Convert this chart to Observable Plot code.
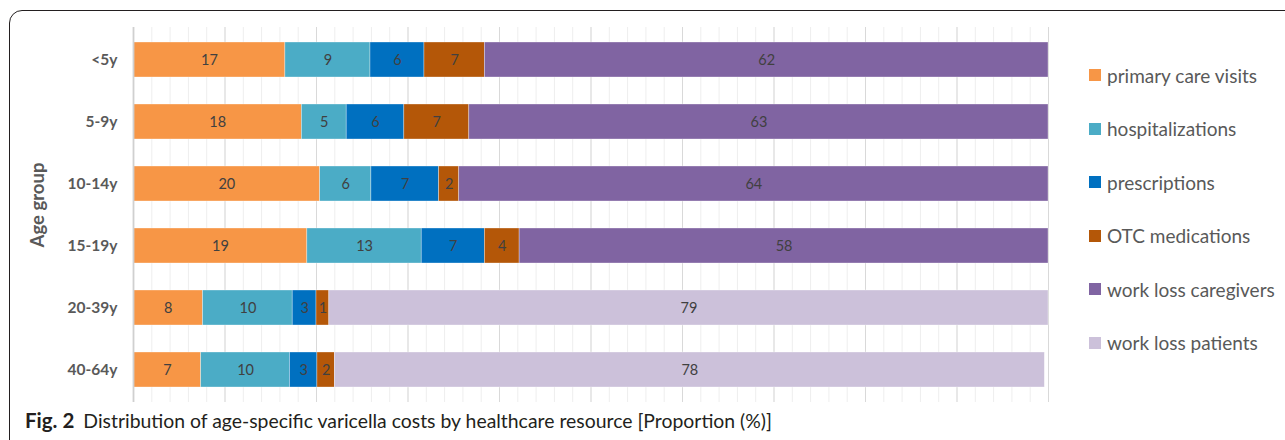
<!DOCTYPE html>
<html>
<head>
<meta charset="utf-8">
<script src="https://cdn.jsdelivr.net/npm/d3@7"></script>
<script src="https://cdn.jsdelivr.net/npm/@observablehq/plot@0.6"></script>
<style>
  html, body { margin: 0; padding: 0; background: #fff; }
  body { width: 1285px; height: 440px; position: relative; overflow: hidden; font-family: Lato, "Open Sans", sans-serif; }
  #frame { position: absolute; left: 9px; top: 10px; width: 1400px; height: 520px; border: 1px solid #231f20; border-radius: 13px; box-sizing: border-box; }
  #chart { position: absolute; left: 0; top: 0; }
  #legend { position: absolute; left: 1089px; top: 0; }
  .item { position: absolute; left: 0; white-space: nowrap; height: 24px; display: flex; align-items: center; }
  .sw { width: 12px; height: 12px; margin-right: 6px; flex: none; }
  .lab { font-size: 19px; color: #595959; }
  #caption { position: absolute; left: 25px; top: 408px; font-size: 19.4px; color: #231f20; white-space: nowrap; }
  #caption b { font-size: 20.5px; margin-right: 9px; }
</style>
</head>
<body>
<div id="frame"></div>
<div id="chart"></div>
<div id="legend"></div>
<div id="caption"><b>Fig. 2</b>Distribution of age-specific varicella costs by healthcare resource [Proportion (%)]</div>
<script>
const ages = ["<5y", "5-9y", "10-14y", "15-19y", "20-39y", "40-64y"];
const categories = ["primary care visits", "hospitalizations", "prescriptions", "OTC medications", "work loss caregivers", "work loss patients"];
const colors = ["#f79646", "#4bacc6", "#0070c0", "#b45708", "#8064a2", "#ccc1da"];

const primaryCare        = [16.6, 18.4, 20.4, 19.0, 7.6, 7.4];
const hospitalizations   = [9.3, 4.9, 5.6, 12.5, 9.8, 9.7];
const prescriptions      = [5.9, 6.3, 7.4, 6.9, 2.6, 3.0];
const otcMedications     = [6.6, 7.1, 2.2, 3.8, 1.4, 1.9];
const workLossCaregivers = [61.6, 63.3, 64.4, 57.8, 0, 0];
const workLossPatients   = [0, 0, 0, 0, 78.6, 77.6];

const series = [primaryCare, hospitalizations, prescriptions, otcMedications, workLossCaregivers, workLossPatients];
const data = [];
ages.forEach((age, i) => {
  categories.forEach((cat, j) => {
    const v = series[j][i];
    if (v > 0) data.push({age, cat, value: v});
  });
});

const chart = Plot.plot({
  width: 1070,
  height: 410,
  marginLeft: 133,
  marginRight: 22,
  marginTop: 27,
  marginBottom: 8,
  style: {fontFamily: "Lato, 'Open Sans', sans-serif", background: "transparent"},
  x: {domain: [0, 100], axis: null},
  y: {domain: ages, paddingInner: 0.434, paddingOuter: 0.2, axis: null},
  color: {domain: categories, range: colors},
  marks: [
    Plot.gridX({ticks: d3.range(0, 101, 2), stroke: "#eeeeee", strokeOpacity: 1, strokeWidth: 1}),
    Plot.gridX({ticks: d3.range(0, 101, 10), stroke: "#d9d9d9", strokeOpacity: 1, strokeWidth: 1}),
    Plot.barX(data, Plot.stackX({x: "value", y: "age", fill: "cat", order: null, stroke: "#ffffff", strokeWidth: 0.6, strokeOpacity: 0.55})),
    Plot.text(data, Plot.stackX({x: "value", y: "age", order: null, text: d => String(Math.round(d.value)), fill: "#404040", fontSize: 14.5})),
    Plot.ruleX([0], {stroke: "#d0d0d0", strokeWidth: 1.8}),
    Plot.axisY({tickSize: 0, tickPadding: 16, fontSize: 15.5, fontWeight: "bold", fill: "#595959", label: null}),
    Plot.text(["Age group"], {frameAnchor: "left", textAnchor: "middle", dx: -95, dy: -10, rotate: -90, fontSize: 18.5, fontWeight: "bold", fill: "#595959"})
  ]
});
document.getElementById("chart").appendChild(chart);

const legendTops = [75, 128.5, 182, 235.5, 289, 342.5];
const legend = document.getElementById("legend");
categories.forEach((cat, j) => {
  const item = document.createElement("div");
  item.className = "item";
  item.style.top = (legendTops[j] - 12) + "px";
  item.innerHTML = `<span class="sw" style="background:${colors[j]}"></span><span class="lab">${cat}</span>`;
  legend.appendChild(item);
});
</script>
</body>
</html>
